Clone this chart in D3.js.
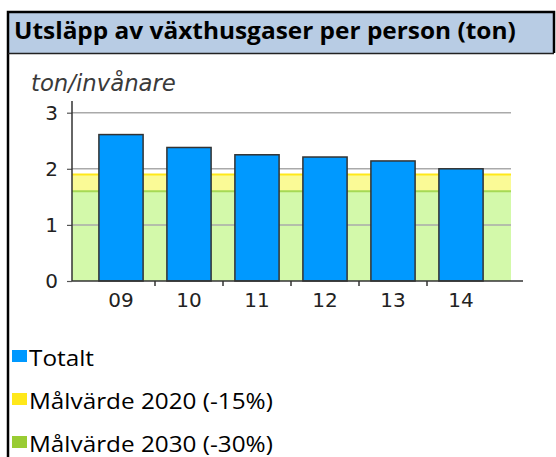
<!DOCTYPE html>
<html>
<head>
	<meta charset="utf-8">
	<script src="https://d3js.org/d3.v7.min.js"></script>
	<title></title>
	<style type="text/css">
		body{ margin:0; background:#fff; }
		#chart{ width:556px; height:457px; }
	</style>
</head>
<body>
	<div id="chart"></div>

	<script type="text/javascript">

		var title = "Utsläpp av växthusgaser per person (ton)";
		var unitLabel = "ton/invånare";
		var categories = ["09", "10", "11", "12", "13", "14"];
		var totalt = [2.61, 2.38, 2.25, 2.21, 2.14, 2.00];
		var mal2020 = [1.9];
		var mal2030 = [1.6];
		var yTicks = [0, 1, 2, 3];
		var legendLabels = ["Totalt", "Målvärde 2020 (-15%)", "Målvärde 2030 (-30%)"];
		var legendColors = ["#0099ff", "#ffe81a", "#99cc33"];

		var width = 556, height = 457;

		var svg = d3.select("#chart")
		  .append("svg")
		  .attr("width", width)
		  .attr("height", height)
		  .style("display", "block");

		// header box
		svg.append("rect")
		  .attr("x", 8).attr("y", 12).attr("width", 546).attr("height", 41)
		  .attr("fill", "#b8cce4");
		svg.append("path")
		  .attr("d", "M8,457 L8,12 L554,12 L554,53")
		  .attr("fill", "none").attr("stroke", "#000").attr("stroke-width", 2.5);
		svg.append("line")
		  .attr("x1", 8).attr("x2", 554).attr("y1", 53.5).attr("y2", 53.5)
		  .attr("stroke", "#222").attr("stroke-width", 1.5);

		// squeeze text horizontally so it fits a given width (narrow font look)
		function fitWidth(sel, x0, y0, w) {
			var tw = sel.node().getComputedTextLength();
			sel.attr("x", 0).attr("y", 0)
			  .attr("transform", "translate(" + x0 + "," + y0 + ") scale(" + (w / tw) + ",1)");
		}

		var t = svg.append("text")
		  .style("font-family", "'Open Sans', 'Liberation Sans', sans-serif")
		  .style("font-weight", "bold")
		  .style("font-size", "22.5px")
		  .attr("fill", "#000")
		  .text(title);
		fitWidth(t, 14, 39, 502);

		// unit label
		var u = svg.append("text")
		  .attr("x", 31).attr("y", 91)
		  .style("font-family", "'DejaVu Sans', Verdana, sans-serif")
		  .style("font-style", "italic")
		  .style("font-size", "17px")
		  .attr("fill", "#3a3a3a")
		  .text(unitLabel);
		var uw = u.node().getComputedTextLength();
		u.style("font-size", (17 * 145 / uw) + "px");

		var plotLeft = 72, plotRight = 511;

		var y = d3.scaleLinear().domain([0, 3]).range([281, 112.7]);
		var x = d3.scaleBand().domain(categories).range([87, 495])
		  .paddingInner(0.35).paddingOuter(0.175);

		// target bands
		svg.append("rect")
		  .attr("x", plotLeft).attr("width", plotRight - plotLeft)
		  .attr("y", y(mal2020[0])).attr("height", y(mal2030[0]) - y(mal2020[0]))
		  .attr("fill", "#fafa96");
		svg.append("rect")
		  .attr("x", plotLeft).attr("width", plotRight - plotLeft)
		  .attr("y", y(mal2030[0])).attr("height", y(0) - y(mal2030[0]))
		  .attr("fill", "#d3f9aa");
		svg.append("line")
		  .attr("x1", plotLeft).attr("x2", plotRight)
		  .attr("y1", y(mal2020[0])).attr("y2", y(mal2020[0]))
		  .attr("stroke", "#ffe81a").attr("stroke-width", 2);
		svg.append("line")
		  .attr("x1", plotLeft).attr("x2", plotRight)
		  .attr("y1", y(mal2030[0])).attr("y2", y(mal2030[0]))
		  .attr("stroke", "#a6d955").attr("stroke-width", 2);

		// grid
		svg.selectAll(".grid")
		  .data(yTicks.filter(function(d){ return d > 0; }))
		  .enter().append("line")
		  .attr("class", "grid")
		  .attr("x1", plotLeft).attr("x2", plotRight)
		  .attr("y1", function(d){ return y(d); })
		  .attr("y2", function(d){ return y(d); })
		  .attr("stroke", "#aaa").attr("stroke-width", 1.5);

		// bars
		svg.selectAll(".bar")
		  .data(totalt)
		  .enter().append("rect")
		  .attr("class", "bar")
		  .attr("x", function(d, i){ return x(categories[i]); })
		  .attr("width", x.bandwidth())
		  .attr("y", function(d){ return y(d); })
		  .attr("height", function(d){ return y(0) - y(d); })
		  .attr("fill", "#0099ff")
		  .attr("stroke", "#333")
		  .attr("stroke-width", 1.5);

		// y axis
		var yaxis = svg.append("g")
		  .attr("transform", "translate(" + plotLeft + ",0)")
		  .call(d3.axisLeft(y).tickValues(yTicks).tickFormat(d3.format("d")).tickSize(5).tickPadding(9));
		yaxis.select(".domain").remove();
		yaxis.append("line")
		  .attr("x1", 0).attr("x2", 0).attr("y1", 101).attr("y2", y(0))
		  .attr("stroke", "#333").attr("stroke-width", 1.5);
		yaxis.selectAll(".tick line").attr("stroke", "#555").attr("stroke-width", 1.2);
		yaxis.selectAll("text")
		  .style("font-family", "'DejaVu Sans', Verdana, sans-serif")
		  .style("font-size", "20px")
		  .attr("fill", "#222");

		// x axis
		var step = x.step();
		svg.append("line")
		  .attr("x1", plotLeft).attr("x2", 523).attr("y1", y(0)).attr("y2", y(0))
		  .attr("stroke", "#333").attr("stroke-width", 1.5);
		svg.selectAll(".xtick")
		  .data(categories.slice(1))
		  .enter().append("line")
		  .attr("class", "xtick")
		  .attr("x1", function(d){ return x(d) - step * 0.175; })
		  .attr("x2", function(d){ return x(d) - step * 0.175; })
		  .attr("y1", y(0)).attr("y2", y(0) + 5)
		  .attr("stroke", "#333").attr("stroke-width", 1.5);
		svg.selectAll(".xlabel")
		  .data(categories)
		  .enter().append("text")
		  .attr("class", "xlabel")
		  .attr("x", function(d){ return x(d) + x.bandwidth() / 2; })
		  .attr("y", 307)
		  .attr("text-anchor", "middle")
		  .style("font-family", "'DejaVu Sans', Verdana, sans-serif")
		  .style("font-size", "20px")
		  .attr("fill", "#222")
		  .text(function(d){ return d; });

		// legend
		var legend = svg.selectAll(".legend")
		  .data(legendLabels)
		  .enter().append("g")
		  .attr("class", "legend")
		  .attr("transform", function(d, i){ return "translate(12," + (350 + i * 43) + ")"; });
		legend.append("rect")
		  .attr("x", 0).attr("y", 0).attr("width", 15).attr("height", 12)
		  .attr("fill", function(d, i){ return legendColors[i]; });
		var ltext = legend.append("text")
		  .style("font-family", "'Open Sans', 'Liberation Sans', sans-serif")
		  .style("font-size", "21px")
		  .attr("fill", "#000")
		  .text(function(d){ return d; });

		// same horizontal squeeze for all legend texts, taken from the longest one
		var longest = ltext.filter(function(d, i){ return i === 2; }).node().getComputedTextLength();
		var sx = 244 / longest;
		ltext.attr("transform", "translate(17,15.5) scale(" + sx + ",1)");

	</script>
</body>
</html>
